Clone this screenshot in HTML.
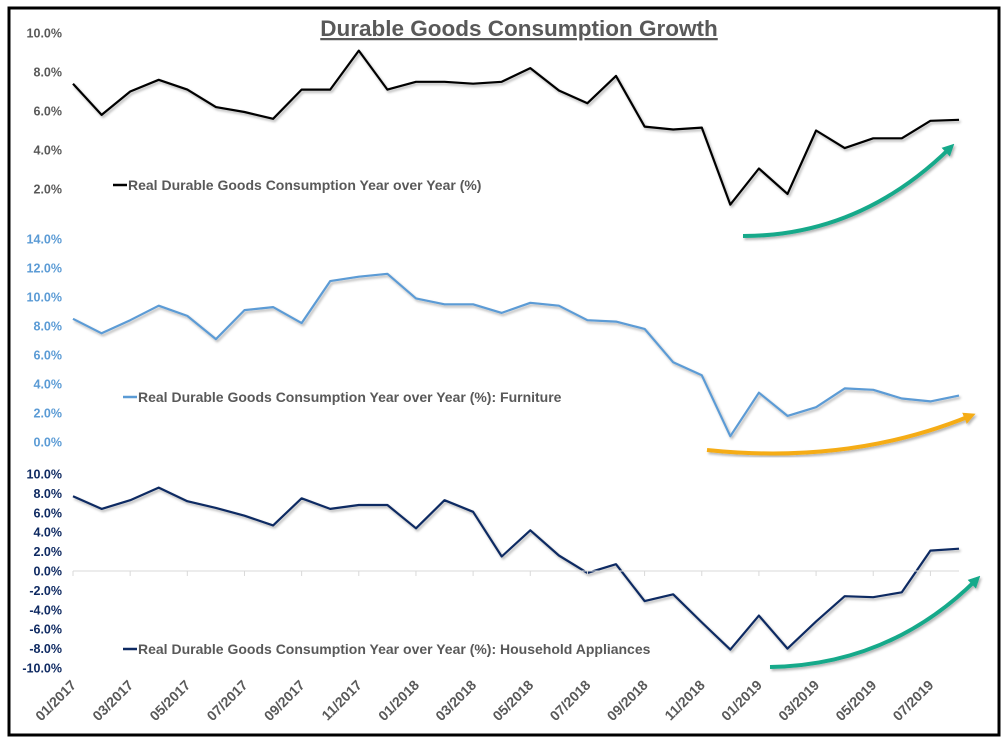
<!DOCTYPE html>
<html><head><meta charset="utf-8"><style>
body{margin:0;background:#fff;}
svg{display:block;font-family:"Liberation Sans",sans-serif;}
</style></head><body>
<svg id="c" width="1007" height="742">
<defs>
<marker id="at" viewBox="0 0 10 10" refX="5" refY="5" markerWidth="3" markerHeight="3" orient="auto"><path d="M0,0L10,5L0,10z" fill="#14a98a"/></marker>
<marker id="ao" viewBox="0 0 10 10" refX="5" refY="5" markerWidth="3" markerHeight="3" orient="auto"><path d="M0,0L10,5L0,10z" fill="#f5ac12"/></marker>
<filter id="sh"><feDropShadow dx="1.5" dy="2" stdDeviation="1.2" flood-color="#000" flood-opacity="0.3"/></filter>
</defs>
<rect x="9" y="8" width="990" height="727" fill="#fff" stroke="#000" stroke-width="3"/>
<text x="519" y="36" text-anchor="middle" font-size="22.5" font-weight="bold" fill="#595959" text-decoration="underline">Durable Goods Consumption Growth</text>
<g id="g"></g>
<path d="M743,236 Q860,236 950,148" fill="none" stroke="#14a98a" stroke-width="4" marker-end="url(#at)" filter="url(#sh)"/>
<path d="M707,450 Q850,465 970,416" fill="none" stroke="#f5ac12" stroke-width="4" marker-end="url(#ao)" filter="url(#sh)"/>
<path d="M770,667 Q890,665 976,580" fill="none" stroke="#14a98a" stroke-width="4" marker-end="url(#at)" filter="url(#sh)"/>
</svg>
<script>
const months=['01/2017','03/2017','05/2017','07/2017','09/2017','11/2017','01/2018','03/2018','05/2018','07/2018','09/2018','11/2018','01/2019','03/2019','05/2019','07/2019'];
const totalYoY=[7.4,5.8,7.0,7.6,7.1,6.2,5.95,5.6,7.1,7.1,9.1,7.1,7.5,7.5,7.4,7.5,8.2,7.05,6.4,7.8,5.2,5.05,5.15,1.2,3.05,1.75,5.0,4.1,4.6,4.6,5.5,5.55];
const furnitureYoY=[8.5,7.5,8.4,9.4,8.7,7.1,9.1,9.3,8.2,11.1,11.4,11.6,9.9,9.5,9.5,8.9,9.6,9.4,8.4,8.3,7.8,5.5,4.6,0.4,3.4,1.8,2.4,3.7,3.6,3.0,2.8,3.2];
const appliancesYoY=[7.7,6.4,7.3,8.6,7.2,6.5,5.7,4.7,7.5,6.4,6.8,6.8,4.4,7.3,6.1,1.5,4.2,1.6,-0.2,0.7,-3.1,-2.4,-5.3,-8.1,-4.6,-8.0,-5.2,-2.6,-2.7,-2.2,2.1,2.3];
const ticks1=[2,4,6,8,10];
const ticks2=[0,2,4,6,8,10,12,14];
const ticks3=[-10,-8,-6,-4,-2,0,2,4,6,8,10];
const NS='http://www.w3.org/2000/svg';
const g=document.getElementById('g');
function mk(t,a){const e=document.createElementNS(NS,t);for(const k in a)e.setAttribute(k,a[k]);g.appendChild(e);return e;}
const x=i=>73+i*28.58;
const panels=[
 {data:totalYoY,ticks:ticks1,top:10,bot:2,y0:33,y1:189,col:'#000',tcol:'#595959',name:'total',leg:'Real Durable Goods Consumption Year over Year (%)',lx:113,ly:190},
 {data:furnitureYoY,ticks:ticks2,top:14,bot:0,y0:239,y1:442,col:'#5b9bd5',tcol:'#5b9bd5',name:'furniture',leg:'Real Durable Goods Consumption Year over Year (%): Furniture',lx:123,ly:402},
 {data:appliancesYoY,ticks:ticks3,top:10,bot:-10,y0:474,y1:668,col:'#0f2a62',tcol:'#0f2a62',name:'appliances',leg:'Real Durable Goods Consumption Year over Year (%): Household Appliances',lx:123,ly:654}
];
panels.forEach(p=>{
 const y=v=>p.y0+(p.top-v)/(p.top-p.bot)*(p.y1-p.y0);
 p.ticks.forEach(t=>{
  const e=mk('text',{x:62,y:y(t)+4.5,'text-anchor':'end','font-size':12.5,'font-weight':'bold',fill:p.tcol});
  e.textContent=t.toFixed(1)+'%';
  
  
 });
 const d=p.data.map((v,i)=>(i?'L':'M')+x(i).toFixed(1)+','+y(v).toFixed(1)).join('');
 const l=mk('path',{d:d,fill:'none',stroke:p.col,'stroke-width':2.2,'stroke-linejoin':'round',filter:'url(#sh)'});
 
 
 const ll=mk('line',{x1:p.lx,x2:p.lx+14,y1:p.ly-5,y2:p.ly-5,stroke:p.col,'stroke-width':2.5});
 
 
 const lt=mk('text',{x:p.lx+15,y:p.ly,'font-size':14,'font-weight':'bold',fill:'#595959'});
 lt.textContent=p.leg;
 
 
});
const ax=mk('line',{x1:73,x2:959,y1:571,y2:571,stroke:'#d9d9d9','stroke-width':1});


months.forEach((m,k)=>{
 const xx=x(k*2);
 const tk=mk('line',{x1:xx,x2:xx,y1:571,y2:576,stroke:'#d9d9d9'});
 
 
 const t=mk('text',{x:xx+4,y:686,'text-anchor':'end','font-size':14,'font-weight':'bold',fill:'#595959',transform:'rotate(-45 '+(xx+4)+' 686)'});
 t.textContent=m;
 
 
});
</script>
</body></html>
